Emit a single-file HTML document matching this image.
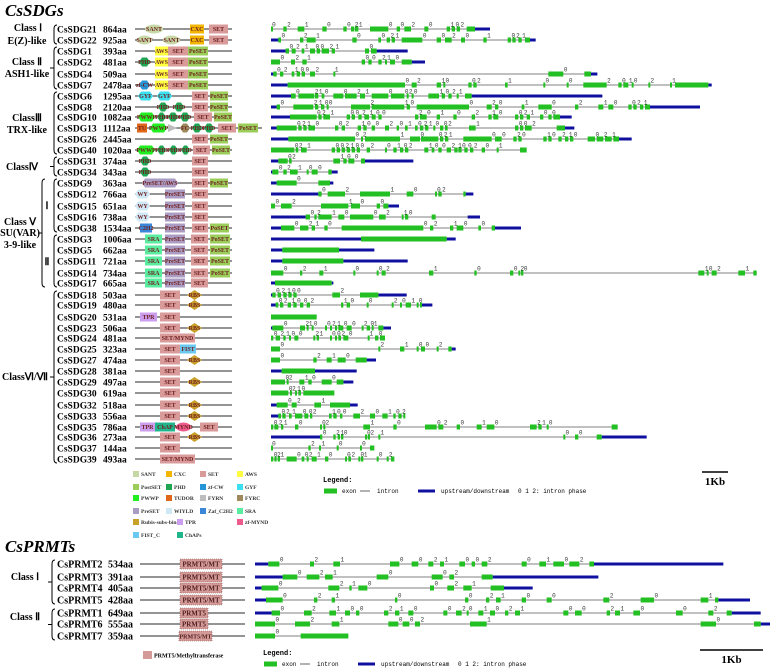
<!DOCTYPE html>
<html><head><meta charset="utf-8"><style>
body{margin:0;background:#fff}
svg{display:block}
.t{font-family:"Liberation Serif",serif;font-weight:bold}
.m{font-family:"Liberation Mono",monospace}
</style></head><body>
<svg id="fig" width="777" height="670" viewBox="0 0 777 670" xmlns="http://www.w3.org/2000/svg">
<text class="t" x="5" y="16" font-size="17" font-style="italic">CsSDGs</text>
<text class="t" x="5" y="552" font-size="17" font-style="italic">CsPRMTs</text>
<g id="g"></g>
</svg>
<script>
// ---- data ----
const sdgNames=["CsSDG21","CsSDG22","CsSDG1","CsSDG2","CsSDG4","CsSDG7","CsSDG6","CsSDG8","CsSDG10","CsSDG13","CsSDG26","CsSDG40","CsSDG31","CsSDG34","CsSDG9","CsSDG12","CsSDG15","CsSDG16","CsSDG38","CsSDG3","CsSDG5","CsSDG11","CsSDG14","CsSDG17","CsSDG18","CsSDG19","CsSDG20","CsSDG23","CsSDG24","CsSDG25","CsSDG27","CsSDG28","CsSDG29","CsSDG30","CsSDG32","CsSDG33","CsSDG35","CsSDG36","CsSDG37","CsSDG39"];
const sdgLens=["864aa","925aa","393aa","481aa","509aa","2478aa","1295aa","2120aa","1082aa","1112aa","2445aa","1020aa","374aa","343aa","363aa","766aa","651aa","738aa","1534aa","1006aa","662aa","721aa","734aa","665aa","503aa","480aa","531aa","506aa","481aa","323aa","474aa","381aa","497aa","619aa","518aa","556aa","786aa","273aa","144aa","493aa"];
const sdgY=[29,40,51,62,74,85,96,107,117,128,139,150,161,172,183,194,206,217,228,239,250,261,273,283,295,305,317,328,338,349,360,371,382,393,405,416,427,437,448,459];
const P={SET:["SET","box"],PoSET:["PoSET","box"],AWS:["AWS","box"],SANT:["SANT","ell"],CXC:["CXC","box"],PHD:["PHD","hex"],CW:["zf-CW","hex"],GYF:["GYF","hex"],PWWP:["PWWP","hex"],TUD:["TUDOR","box"],FYRN:["FYRN","tri"],FYRC:["FYRC","hex"],PRE:["PreSET","box"],WY:["WYLD","hex"],C2H2:["C2H2","box"],SRA:["SRA","box"],RBS:["RBS","dia"],TPR:["TPR","box"],MYND:["MYND","ell"],FIST:["FIST","box"],CHAP:["ChAP","box"],SM:["SET/MYND","box"],PA:["PreSET/AWS","hex"]};
const colors={SET:"#d99a9a",PoSET:"#9acd5a",AWS:"#ffff40",SANT:"#c6d8a6",CXC:"#f3b600",PHD:"#1fa653",CW:"#2496d8",GYF:"#3be0f0",PWWP:"#20ee20",TUD:"#e0661a",FYRN:"#bdbdbd",FYRC:"#9c8a5c",PRE:"#ab9cc3",WY:"#cfe8f6",C2H2:"#3a86d8",SRA:"#5aeda0",RBS:"#c9a12a",TPR:"#cc9ef0",MYND:"#ee5a8c",FIST:"#6ac9f0",CHAP:"#20b68c",SM:"#d99a9a",PA:"#ab9cc3"};
const sdgDom=[
[["SANT",145,163],["CXC",190,204],["SET",209,228]],
[["SANT",137,152],["SANT",163,180],["CXC",190,204],["SET",209,228]],
[["AWS",155,168],["SET",168,188],["PoSET",188,208]],
[["PHD",139,150],["AWS",155,168],["SET",168,188],["PoSET",188,208]],
[["AWS",155,168],["SET",168,188],["PoSET",188,208]],
[["CW",139,150],["AWS",155,168],["SET",168,188],["PoSET",188,208]],
[["GYF",138,153],["GYF",157,172],["SET",192,208],["PoSET",210,228]],
[["PHD",158,168],["PHD",174,184],["SET",192,208],["PoSET",210,228]],
[["PWWP",138,155],["PHD",157,166],["PHD",168,178],["PHD",180,190],["SET",194,212],["PoSET",214,232]],
[["TUD",137,147],["PWWP",150,167],["FYRN",168,177],["FYRC",180,190],["PHD",192,202],["PHD",204,214],["SET",218,236],["PoSET",238,258]],
[["SET",192,208],["PoSET",210,228]],
[["PWWP",137,155],["PHD",157,166],["PHD",169,178],["PHD",181,190],["SET",193,210],["PoSET",212,230]],
[["PHD",140,150],["SET",192,208]],
[["PHD",140,150],["SET",192,208]],
[["PA",142,178],["SET",192,208],["PoSET",210,228]],
[["WY",135,150],["PRE",165,185],["SET",192,208]],
[["WY",135,150],["PRE",165,185],["SET",192,208]],
[["WY",135,150],["PRE",165,185],["SET",192,208]],
[["C2H2",140,152],["PRE",165,185],["SET",192,208],["PoSET",210,229]],
[["SRA",145,162],["PRE",165,185],["SET",191,208],["PoSET",210,230]],
[["SRA",145,162],["PRE",165,185],["SET",191,208],["PoSET",210,230]],
[["SRA",145,162],["PRE",165,185],["SET",191,208],["PoSET",210,230]],
[["SRA",145,162],["PRE",165,185],["SET",191,208],["PoSET",210,230]],
[["SRA",145,162],["PRE",165,185],["SET",191,208]],
[["SET",160,180],["RBS",187,202]],
[["SET",160,180],["RBS",187,202]],
[["TPR",140,157],["SET",160,180]],
[["SET",160,180],["RBS",187,202]],
[["SM",160,195]],
[["SET",160,180],["FIST",180,196]],
[["SET",160,180],["RBS",187,202]],
[["SET",160,180]],
[["SET",160,180],["RBS",187,202]],
[["SET",160,180]],
[["SET",160,180],["RBS",187,202]],
[["SET",160,180],["RBS",187,202]],
[["TPR",140,155],["CHAP",155,175],["MYND",176,191],["SET",200,218]],
[["SET",160,180],["RBS",187,202]],
[["SET",160,180]],
[["SM",160,195]]];
const sdgGenes=[
[0,630,[18,20],[55,65],[98,118],[172,185],[235,245],[258,268],[270,280],[315,370],[395,405],[418,438],[478,490],[545,555],[560,570],[575,585],[605,630],[630,675]],
[40,795,[40,48],[105,115],[125,152],[262,275],[340,348],[365,375],[380,390],[410,472],[515,528],[540,560],[588,600],[655,665],[728,738],[742,752],[760,770],[780,795],[795,812]],
[62,335,[62,72],[80,92],[110,118],[135,150],[155,165],[170,192],[200,210],[300,312],[318,335],[335,428]],
[0,440,[18,45],[78,90],[112,125],[290,300],[310,320],[340,350],[360,365],[375,390],[410,440],[440,480]],
[25,978,[25,35],[45,55],[80,88],[95,105],[110,120],[135,150],[205,208],[850,895],[958,978],[978,997]],
[68,1330,[68,420],[440,455],[515,528],[535,540],[610,620],[625,635],[720,728],[835,840],[905,910],[955,1025],[1060,1070],[1075,1090],[1100,1105],[1150,1155],[1215,1220],[1230,1330],[1330,1340]],
[78,620,[78,92],[100,148],[150,160],[170,178],[205,235],[240,275],[285,300],[320,370],[378,418],[425,430],[440,445],[490,522],[530,540],[550,560],[575,580],[600,620],[620,1012]],
[35,1155,[35,45],[85,145],[150,160],[168,178],[185,190],[258,315],[320,418],[425,435],[455,612],[665,680],[690,700],[770,778],[820,860],[930,940],[1000,1015],[1030,1045],[1090,1100],[1105,1115],[1125,1135],[1140,1155],[1155,1305]],
[75,885,[75,155],[160,170],[175,195],[245,255],[260,270],[280,290],[298,312],[320,332],[340,350],[450,460],[465,485],[515,525],[565,575],[620,630],[670,680],[685,700],[750,760],[765,775],[785,795],[825,835],[850,860],[865,885],[885,920]],
[35,900,[35,95],[100,110],[115,125],[130,150],[210,220],[230,240],[278,288],[295,305],[320,330],[360,372],[395,402],[420,428],[450,458],[465,475],[480,490],[505,510],[525,535],[540,548],[612,632],[750,760],[765,775],[780,800],[875,900],[900,928]],
[70,1062,[70,270],[288,292],[300,405],[435,465],[468,520],[525,535],[540,550],[595,680],[690,710],[745,755],[760,770],[835,845],[850,860],[880,890],[900,910],[915,925],[968,990],[995,1015],[1020,1040],[1045,1062],[1062,1100]],
[0,785,[18,88],[92,100],[108,125],[200,210],[215,225],[230,240],[245,255],[260,270],[275,285],[305,315],[360,365],[385,395],[405,415],[420,430],[478,490],[500,508],[520,530],[545,558],[568,578],[580,590],[598,608],[615,625],[650,660],[695,700],[765,785]],
[40,300,[40,68],[72,80],[205,225],[235,245],[250,268],[288,300],[300,445]],
[22,200,[22,40],[55,65],[75,98],[125,130],[140,158],[190,200],[200,218]],
[35,195,[35,95],[160,195],[195,205]],
[160,602,[160,170],[188,240],[285,375],[425,445],[510,515],[520,530],[595,602],[602,625]],
[0,370,[18,30],[48,80],[168,250],[258,285],[335,345],[355,370],[370,402]],
[122,608,[122,135],[148,155],[160,200],[220,238],[255,325],[342,362],[410,415],[420,430],[500,512],[608,645]],
[48,690,[48,88],[105,130],[140,150],[178,188],[230,475],[495,505],[555,565],[575,595],[640,648],[680,690],[690,768]],
[288,545,[288,545],[545,572]],
[52,222,[52,222],[222,328]],
[52,235,[52,235],[235,428]],
[0,1475,[18,55],[105,112],[163,175],[265,270],[335,340],[350,362],[492,505],[628,635],[735,745],[760,765],[768,775],[1300,1318],[1325,1330],[1340,1355],[1420,1440],[1465,1475]],
[30,200,[30,200],[200,205]],
[22,340,[22,32],[38,48],[55,65],[70,80],[85,95],[202,225],[285,340],[340,425]],
[32,470,[32,40],[45,55],[68,78],[85,95],[105,115],[125,135],[228,235],[245,255],[305,310],[380,385],[405,410],[422,438],[455,460],[465,470],[470,502]],
[0,155,[18,155]],
[22,355,[22,55],[105,120],[125,130],[140,145],[180,185],[195,200],[210,215],[220,235],[245,260],[290,295],[305,315],[320,325],[340,355],[355,378]],
[0,360,[18,25],[32,45],[55,62],[72,78],[88,100],[145,150],[155,162],[195,200],[210,215],[220,228],[235,250],[308,312],[330,340],[345,360]],
[0,560,[18,45],[340,345],[405,418],[455,460],[468,480],[515,520],[550,560],[560,572]],
[0,305,[18,45],[145,155],[185,200],[218,242],[272,305],[305,333]],
[50,150,[50,150],[150,275]],
[0,235,[18,60],[65,70],[103,118],[130,140],[170,200],[215,235],[235,265]],
[0,208,[18,70],[75,80],[90,95],[100,108],[115,208]],
[35,255,[35,68],[80,95],[148,168],[195,255],[255,278]],
[40,420,[40,48],[52,62],[72,80],[90,112],[118,130],[135,142],[192,200],[205,215],[225,232],[265,285],[315,330],[352,368],[385,392],[400,410],[415,420]],
[0,1058,[18,25],[28,40],[48,55],[90,100],[165,170],[175,180],[295,315],[385,395],[480,515],[520,535],[575,585],[635,650],[665,688],[795,815],[820,830],[845,850],[1040,1058]],
[165,1010,[165,172],[205,212],[218,225],[228,235],[300,305],[308,315],[340,345],[895,900],[930,940],[995,1010],[1010,1145]],
[0,328,[18,20],[130,137],[162,168],[215,220],[285,290],[315,328]],
[0,388,[18,25],[28,35],[38,45],[65,95],[110,118],[125,130],[140,155],[180,190],[240,245],[250,258],[280,285],[288,295],[335,340],[365,370],[378,388]]];
const prmtNames=["CsPRMT2","CsPRMT3","CsPRMT4","CsPRMT5","CsPRMT1","CsPRMT6","CsPRMT7"];
const prmtLens=["534aa","391aa","405aa","428aa","649aa","555aa","359aa"];
const prmtY=[564,577,588,600,613,624,636];
const prmtDom=[["PRMT5/MT",180,222],["PRMT5/MT",180,222],["PRMT5/MT",180,222],["PRMT5/MT",180,222],["PRMT5",180,208],["PRMT5",180,208],["PRMT5/MT",179,212]];
const prmtGenes=[
[55,1032,[55,88],[180,192],[250,270],[420,448],[485,505],[535,550],[570,582],[628,645],[665,675],[695,712],[815,830],[868,888],[910,942],[958,988],[1018,1032],[1032,1420]],
[98,728,[98,142],[170,208],[225,248],[380,415],[545,578],[598,612],[695,728],[728,1045]],
[35,762,[35,85],[235,268],[298,305],[325,352],[540,552],[592,612],[640,665],[722,762],[762,848]],
[48,1405,[48,98],[192,202],[245,255],[435,442],[645,655],[708,718],[738,752],[815,828],[890,905],[1060,1078],[1172,1212],[1352,1375],[1395,1405],[1405,1500]],
[65,1445,[65,90],[162,185],[238,258],[285,300],[318,328],[402,415],[435,448],[475,490],[580,592],[618,635],[650,655],[685,700],[720,735],[765,775],[795,810],[940,955],[975,995],[1070,1080],[1095,1110],[1150,1170],[1278,1298],[1375,1390],[1430,1445],[1445,1532]],
[0,1532,[15,75],[135,180],[245,268],[415,445],[458,478],[495,510],[660,710],[1352,1398],[1512,1532],[1532,1560]],
[0,295,[15,75],[152,295]]];
const phases=[0,2,1,0,0,2,1,0,0,2,0,1];
// ---- drawing ----
const NS="http://www.w3.org/2000/svg", G=document.getElementById('g');
function el(t,a,txt){const e=document.createElementNS(NS,t);for(const k in a)e.setAttribute(k,a[k]);if(txt!==undefined)e.textContent=txt;G.appendChild(e);return e;}
function txt(x,y,s,size,extra){return el('text',Object.assign({x:x,y:y,'font-size':size,class:'t'},extra||{}),s);}
function gx(base,scale,u){return base+u/scale;}
function drawGene(row,y,base,scale,startU,name){
  const lu=row[0],ru=row[1],ex=row.slice(2);
  let last=ex[ex.length-1];
  const hasRight=last[0]===ru;
  const exons=hasRight?ex.slice(0,-1):ex;
  const endU=hasRight?last[1]:exons[exons.length-1][1];
  const l=el('line',{x1:gx(base,scale,startU),x2:gx(base,scale,endU),y1:y,y2:y,stroke:'#808080','stroke-width':1});
  
  
  if(lu>startU){const b=el('rect',{x:gx(base,scale,startU),y:y-1.5,width:(lu-startU)/scale,height:3,fill:'#1010a0'});
    
    }
  if(hasRight){const b=el('rect',{x:gx(base,scale,last[0]),y:y-1.5,width:(last[1]-last[0])/scale,height:3,fill:'#1010a0'});
    
    }
  exons.forEach((e,i)=>{const r=el('rect',{x:gx(base,scale,e[0]),y:y-2.5,width:Math.max(2,(e[1]-e[0])/scale),height:5,fill:'#22c022'});
    
    
    if(i<exons.length-1){const p=el('text',{x:gx(base,scale,e[1])+0.5,y:y-2.5,'font-size':6,class:'m',fill:'#333'},String(phases[i%phases.length]));
      
      }
  });
}
function drawDom(d,y,name){
  const [t,x1,x2]=d; const w=x2-x1, c=colors[t], lab=P[t][0], sh=P[t][1]; let s;
  if(sh==='box') s=el('rect',{x:x1,y:y-4.5,width:w,height:9,fill:c});
  else if(sh==='ell') s=el('ellipse',{cx:(x1+x2)/2,cy:y,rx:w/2,ry:4.5,fill:c});
  else if(sh==='hex') s=el('polygon',{points:`${x1},${y} ${x1+3},${y-4.5} ${x2-3},${y-4.5} ${x2},${y} ${x2-3},${y+4.5} ${x1+3},${y+4.5}`,fill:c});
  else if(sh==='dia') s=el('polygon',{points:`${x1},${y} ${(x1+x2)/2},${y-5} ${x2},${y} ${(x1+x2)/2},${y+5}`,fill:c});
  else s=el('polygon',{points:`${x1},${y-4} ${x2},${y} ${x1},${y+4}`,fill:c});
  
  
  const tt=el('text',{x:(x1+x2)/2,y:y+2.2,'font-size':6,'text-anchor':'middle',class:'t',fill:'#702020'},lab==='WYLD'?'WY':lab==='FYRN'?'':lab==='FYRC'?'FC':lab==='TUDOR'?'TU':lab);
  
  
}
sdgNames.forEach((n,i)=>{
  const y=sdgY[i], id=n.toLowerCase();
  const a=txt(57,y+3.5,n,9.5);  
  const b=txt(103,y+3.5,sdgLens[i],9.5);  
  const l=el('line',{x1:135,x2:i===9?262:232,y1:y,y2:y,stroke:'#555','stroke-width':1.2});
   
  sdgDom[i].forEach(d=>drawDom(d,y,id));
  drawGene(sdgGenes[i],y,265,3,18,id);
});
prmtNames.forEach((n,i)=>{
  const y=prmtY[i], id=n.toLowerCase();
  const a=txt(57,y+3.5,n,10);  
  const b=txt(108,y+3.5,prmtLens[i],10);  
  const l=el('line',{x1:140,x2:245,y1:y,y2:y,stroke:'#555','stroke-width':1.2});
   
  const d=prmtDom[i];
  const r=el('rect',{x:d[1],y:y-5,width:d[2]-d[1],height:10,fill:'#d49a98',stroke:'#8a5050','stroke-width':0.6,'stroke-dasharray':'1,1'});
   
  const t=el('text',{x:(d[1]+d[2])/2,y:y+2.5,'font-size':i===6?6:7,'text-anchor':'middle',class:'t',fill:'#502020'},d[0]);
   
  drawGene(prmtGenes[i],y,250,3,15,id);
});
function lab(x,y,s,name,anchor){const t=txt(x,y,s,10,anchor?{'text-anchor':anchor}:{});}
function br(x,y1,y2,name,tick){const p=el('path',{d:`M${x+3},${y1-4} Q${x},${y1-4} ${x},${y1} L${x},${y2} Q${x},${y2+4} ${x+3},${y2+4}`+(tick?` M${x},${(y1+y2)/2} L${x-4},${(y1+y2)/2}`:''),fill:'none',stroke:'#000','stroke-width':1});
  }
lab(28,31,"Class Ⅰ","class-i-label","middle");lab(27,44,"E(Z)-like","ezlike-label","middle");br(54,29,40,"class-i-bracket");
lab(27,65,"Class Ⅱ","class-ii-label","middle");lab(27,77,"ASH1-like","ash1-label","middle");br(54,51,85,"class-ii-bracket",true);
lab(27,121,"ClassⅢ","class-iii-label","middle");lab(27,133,"TRX-like","trx-label","middle");br(54,96,150,"class-iii-bracket");
lab(22,170,"ClassⅣ","class-iv-label","middle");br(54,161,172,"class-iv-bracket",true);
lab(20,225,"Class Ⅴ","class-v-label","middle");lab(20,236,"SU(VAR)","suvar-label","middle");lab(20,248,"3-9-like","39like-label","middle");
br(42,183,283,"class-v-bracket",true);br(54,183,228,"class-v-i-bracket");br(54,239,283,"class-v-ii-bracket");
lab(47,209,"Ⅰ","subgroup-i-label","middle");lab(47,265,"Ⅱ","subgroup-ii-label","middle");
lab(25,380,"ClassⅥ/Ⅶ","class-vi-vii-label","middle");br(54,295,459,"class-vi-vii-bracket",true);
lab(25,580,"Class Ⅰ","prmt-class-i-label","middle");br(52,564,600,"prmt-class-i-bracket",true);
lab(25,620,"Class Ⅱ","prmt-class-ii-label","middle");br(52,613,636,"prmt-class-ii-bracket",true);
// domain legend
const legItems=[["SANT","#c6d8a6"],["CXC","#f3b600"],["SET","#d99a9a"],["AWS","#ffff40"],["PostSET","#9acd5a"],["PHD","#1fa653"],["zf-CW","#2496d8"],["GYF","#3be0f0"],["PWWP","#20ee20"],["TUDOR","#e0661a"],["FYRN","#bdbdbd"],["FYRC","#9c8a5c"],["PreSET","#ab9cc3"],["WIYLD","#cfe8f6"],["Zaf_C2H2","#3a86d8"],["SRA","#5aeda0"],["Rubis-subs-bind","#c9a12a"],["TPR","#cc9ef0"],["zf-MYND","#ee5a8c"],["FIST_C","#6ac9f0"],["ChAPs","#20b68c"]];
const legX=[133,166,200,237,133,166,200,237,133,166,200,237,133,166,200,237,133,177,237,133,177];
const legYs=[474,474,474,474,487,487,487,487,498,498,498,498,511,511,511,511,522,522,522,535,535];
legItems.forEach((it,k)=>{
  const x=legX[k], y=legYs[k];
  const s=el('rect',{x:x,y:y-3,width:6,height:6,fill:it[1]});
   
  const t=el('text',{x:x+8,y:y+2,'font-size':5.5,class:'t',fill:'#333'},it[0]);
   
});
function geneLegend(x0,y0,name){
  const t=el('text',{x:x0,y:y0,'font-size':7,class:'m','font-weight':'bold'},"Legend:");
  const y=y0+9;
  const a=el('rect',{x:x0+1,y:y-2.5,width:13,height:5,fill:'#22c022'});
  const b=el('text',{x:x0+19,y:y+2,'font-size':6,class:'m'},"exon");
  const c=el('line',{x1:x0+37,x2:x0+47,y1:y,y2:y,stroke:'#666'});
  const d=el('text',{x:x0+54,y:y+2,'font-size':6,class:'m'},"intron");
  const e=el('rect',{x:x0+95,y:y-1.5,width:17,height:3,fill:'#1010a0'});
  const f=el('text',{x:x0+118,y:y+2,'font-size':6,class:'m'},"upstream/downstream");
  const g=el('text',{x:x0+195,y:y+2,'font-size':6,class:'m'},"0 1 2: intron phase");
}
geneLegend(323,482,"sdg-gene-legend");
geneLegend(263,655,"prmt-gene-legend");
function scaleBar(x1,x2,y,name){const l=el('line',{x1:x1,x2:x2,y1:y,y2:y,stroke:'#000','stroke-width':1.5});
  const t=txt((x1+x2)/2,y+13,"1Kb",11,{'text-anchor':'middle'});}
scaleBar(702,728,472,"sdg-scale-bar");
scaleBar(700,763,650,"prmt-scale-bar");
const ps=el('rect',{x:143,y:651,width:9,height:8,fill:'#d49a98'});
const pt=el('text',{x:154,y:657.5,'font-size':6,class:'t'},"PRMT5/Methyltransferase");
</script>
</body></html>
